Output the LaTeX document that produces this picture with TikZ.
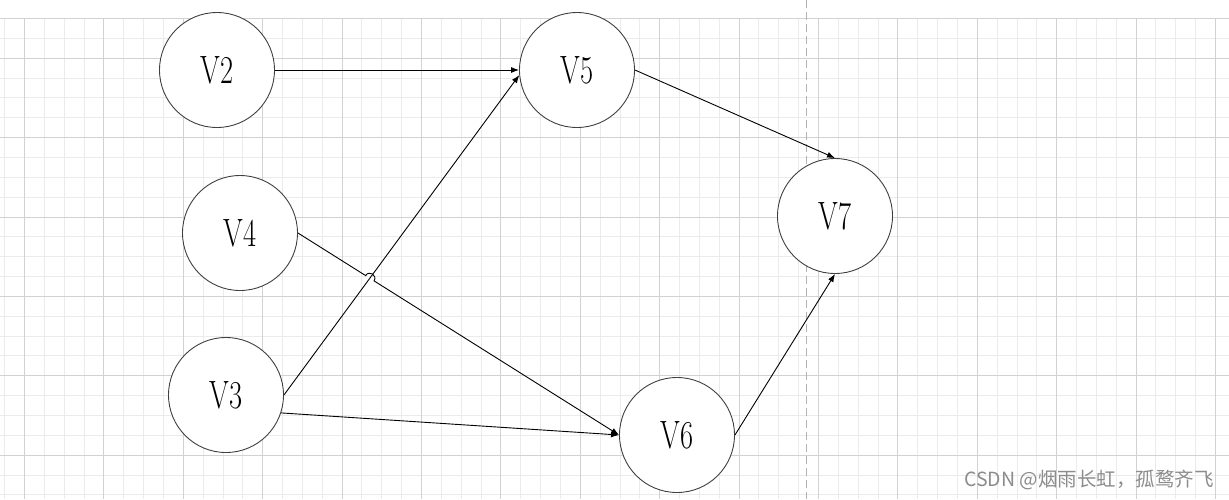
\documentclass[tikz,border=0pt]{standalone}
\usepackage{fontspec}
\newfontfamily\cjk{Noto Sans CJK SC}
\usetikzlibrary{arrows.meta,calc,intersections}
\definecolor{gridminor}{HTML}{EBEBEB}
\definecolor{gridmajor}{HTML}{D2D2D2}
\definecolor{circline}{HTML}{404040}
\definecolor{wmark}{HTML}{8C8C8C}
\tikzset{
  vert/.style={circle, draw=circline, line width=0.9pt, fill=white, minimum size=115pt, inner sep=0pt,
    font=\fontsize{39.5}{44}\selectfont},
  arr/.style={draw=black, line width=0.9pt, -{Latex[length=8pt,width=6pt]}},
  minorline/.style={draw=gridminor, line width=1pt},
  majorline/.style={draw=gridmajor, line width=1pt},
}
\newcommand{\vlab}[1]{\scalebox{0.72}[1]{#1}}
\begin{document}
\begin{tikzpicture}[x=1pt,y=-1pt]
\useasboundingbox (0,0) rectangle (1229,499);
\fill[white] (0,0) rectangle (1229,499);
% grid: minor lines
\foreach \k in {-1,...,60} {
  \pgfmathsetmacro{\xx}{round(24+19.85*\k)+0.5}
  \path[minorline] (\xx,18.5) -- (\xx,499);
}
\foreach \k in {1,...,24} {
  \pgfmathsetmacro{\yy}{round(18+19.85*\k)+0.5}
  \path[minorline] (0,\yy) -- (1229,\yy);
}
% grid: major lines
\foreach \k in {0,4,...,60} {
  \pgfmathsetmacro{\xx}{round(24+19.85*\k)+0.5}
  \path[majorline] (\xx,18.5) -- (\xx,499);
}
\foreach \k in {0,2,6,10,14,18,22} {
  \pgfmathsetmacro{\yy}{round(18+19.85*\k)+0.5}
  \path[majorline] (0,\yy) -- (1229,\yy);
}
\coordinate (dtop) at (806.5,0);
\coordinate (dbot) at (806.5,499);
\draw[draw=gray!60, line width=1pt, dash pattern=on 8pt off 4pt] (dtop) -- (dbot);
% nodes
\node[vert] (V2) at (217,70) {\vlab{V2}};
\node[vert] (V5) at (577,70) {\vlab{V5}};
\node[vert] (V4) at (240,233) {\vlab{V4}};
\node[vert] (V3) at (226,395) {\vlab{V3}};
\node[vert] (V6) at (677,435) {\vlab{V6}};
\node[vert] (V7) at (835,216) {\vlab{V7}};
% edges
\draw[arr] (V2.east) -- (V5.west);
\draw[arr, name path=b] (V3.east) -- (V5.185);
\path[name path=a] (V4.east) -- (V6.west);
\path[name intersections={of=a and b, by=X}];
\coordinate (h1) at ($(X)!5pt!(V4.east)$);
\coordinate (h2) at ($(X)!5pt!(V6.west)$);
\coordinate (c1) at ($(h1)!6.67pt!90:(h2)$);
\coordinate (c2) at ($(h2)!6.67pt!-90:(h1)$);
\draw[arr] (V4.east) -- (h1) .. controls (c1) and (c2) .. (h2) -- (V6.west);
\draw[arr] (V3.-18) -- (V6.west);
\draw[arr] (V5.east) -- (V7.north);
\draw[arr] (V6.east) -- (V7.south);
% watermark
\node[anchor=east, text=wmark, font=\cjk\fontsize{19.5}{22}\selectfont, inner sep=0pt] (wm) at (1214,480) {CSDN @烟雨长虹，孤鹜齐飞};
\end{tikzpicture}
\end{document}
